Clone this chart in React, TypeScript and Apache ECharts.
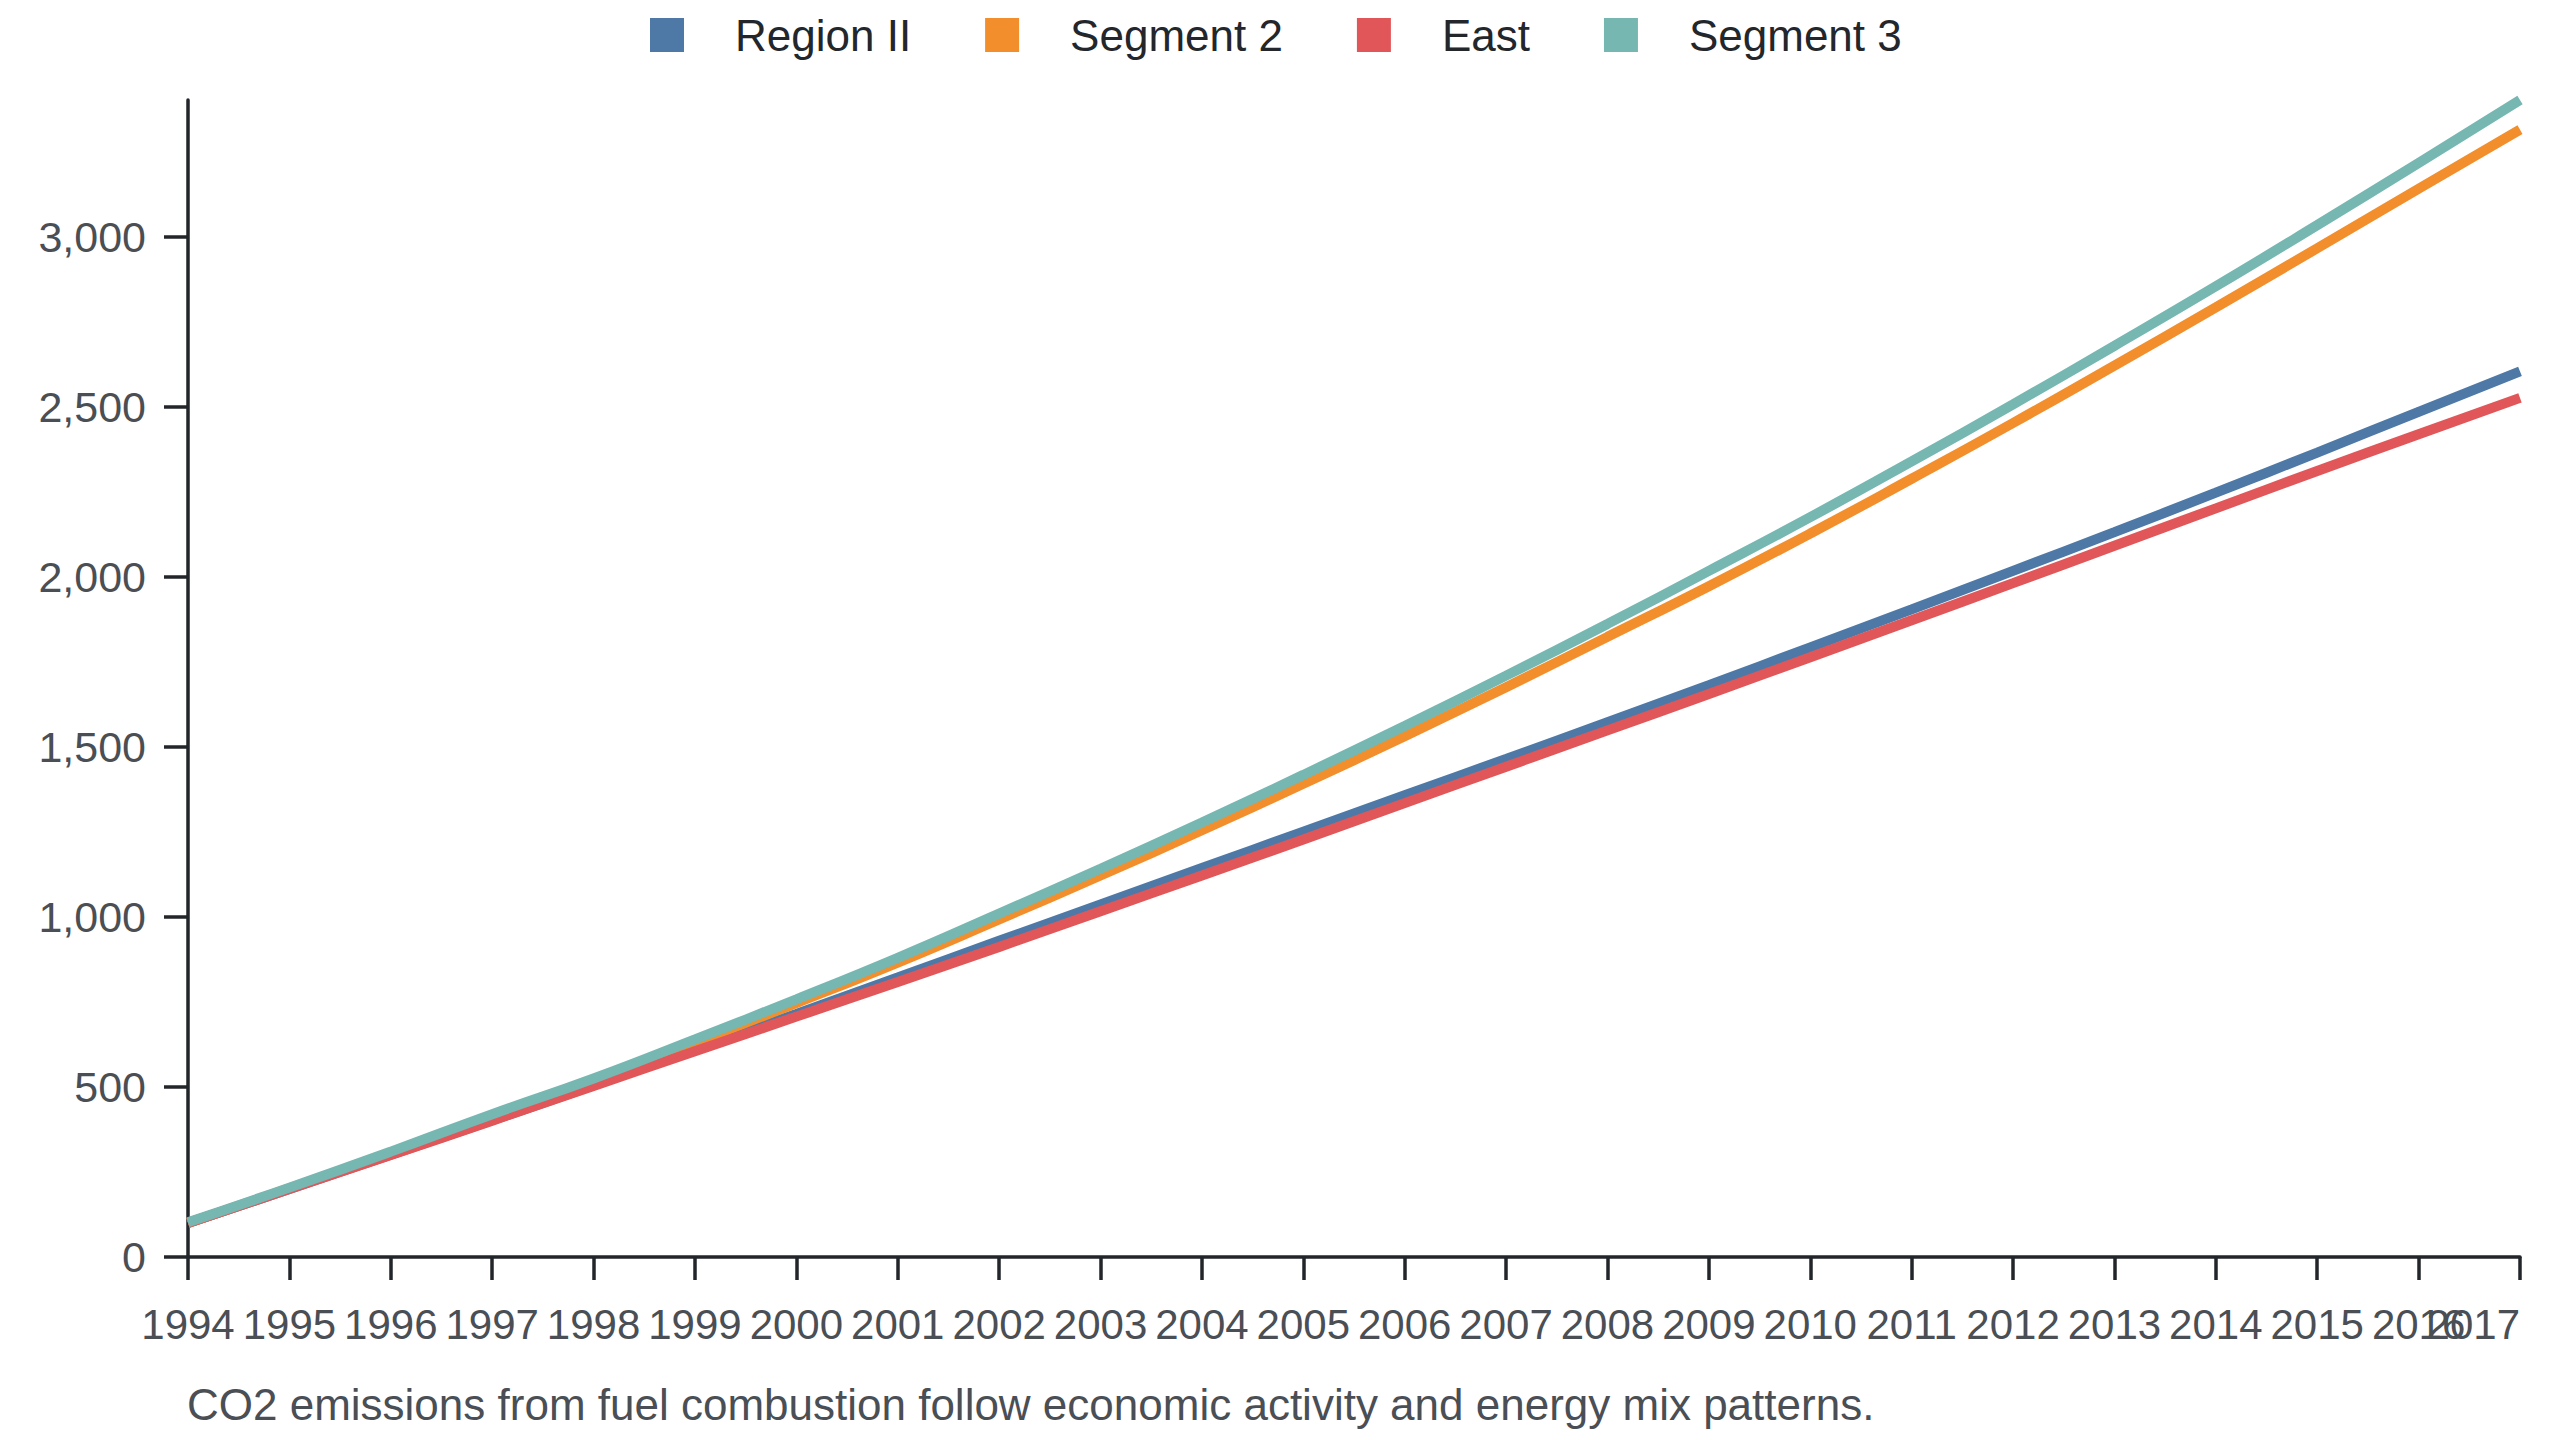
import React, { useEffect, useRef } from 'react';
import * as echarts from 'echarts';

const years = [
    '1994', '1995', '1996', '1997', '1998', '1999', '2000', '2001',
    '2002', '2003', '2004', '2005', '2006', '2007', '2008', '2009',
    '2010', '2011', '2012', '2013', '2014', '2015', '2016', '2017',
];

const regionII = [
    100, 200, 301, 402, 505, 610, 715, 822, 930, 1037, 1144, 1251,
    1358, 1465, 1573, 1682, 1793, 1905, 2018, 2132, 2248, 2366, 2486, 2605,
];
const segment2 = [
    100, 202, 307, 415, 518, 631, 747, 866, 993, 1122, 1255, 1392,
    1532, 1676, 1824, 1973, 2128, 2289, 2453, 2622, 2793, 2967, 3142, 3316,
];
const east = [
    100, 200, 300, 401, 503, 605, 707, 809, 912, 1017, 1122, 1228,
    1335, 1442, 1549, 1656, 1764, 1873, 1982, 2092, 2202, 2312, 2420, 2527,
];
const segment3 = [
    102, 204, 310, 420, 525, 640, 758, 880, 1010, 1142, 1278, 1418,
    1562, 1710, 1862, 2018, 2176, 2340, 2508, 2680, 2855, 3035, 3218, 3403,
];

const yTicks = [0, 500, 1000, 1500, 2000, 2500, 3000];

const caption = 'CO2 emissions from fuel combustion follow economic activity and energy mix patterns.';

const AXIS = '#222529';
const LABEL = '#4a4e55';

const EmissionsChart: React.FC = () => {
    const chartRef = useRef<HTMLDivElement>(null);

    useEffect(() => {
        if (!chartRef.current) return;
        const chart = echarts.init(chartRef.current, undefined, { renderer: 'svg' });

        const line = (name: string, data: number[], color: string) => ({
            name,
            type: 'line',
            data,
            smooth: true,
            symbol: 'none',
            color,
            lineStyle: { width: 10, color, cap: 'butt' },
        });

        chart.setOption({
            animation: false,
            backgroundColor: '#ffffff',
            textStyle: { fontFamily: '"Liberation Sans", Arial, sans-serif' },
            title: {
                text: caption,
                left: 174,
                top: 1369,
                textStyle: { fontSize: 44, fontWeight: 'normal', color: LABEL },
            },
            legend: {
                top: 0,
                left: 637,
                icon: 'rect',
                itemWidth: 34,
                itemHeight: 34,
                itemGap: 74,
                itemStyle: { borderRadius: 4 },
                textStyle: { fontSize: 44, color: '#23262b', padding: [0, 0, 0, 46] },
            },
            grid: { left: 180, right: 32, top: 92, bottom: 175 },
            xAxis: {
                type: 'category',
                data: years,
                boundaryGap: false,
                axisLine: { lineStyle: { color: AXIS, width: 3.5 } },
                axisTick: { show: true, length: 23, lineStyle: { color: AXIS, width: 3.5 } },
                axisLabel: {
                    interval: 0,
                    fontSize: 42,
                    color: LABEL,
                    margin: 46,
                    alignMaxLabel: 'right',
                },
                splitLine: { show: false },
            },
            yAxis: {
                type: 'value',
                min: 0,
                max: 'dataMax',
                interval: 500,
                axisLine: { show: true, lineStyle: { color: AXIS, width: 3.5 } },
                axisTick: { show: true, length: 24, lineStyle: { color: AXIS, width: 3.5 }, customValues: yTicks },
                axisLabel: {
                    fontSize: 43,
                    color: LABEL,
                    margin: 42,
                    customValues: yTicks,
                    formatter: (v: number) => v.toLocaleString('en-US'),
                },
                splitLine: { show: false },
            },
            series: [
                line('Region II', regionII, '#4e79a7'),
                line('Segment 2', segment2, '#f28e2b'),
                line('East', east, '#e15759'),
                line('Segment 3', segment3, '#76b7b2'),
            ],
        });

        return () => {
            chart.dispose();
        };
    }, []);

    return <div ref={chartRef} style={{ width: '100%', height: '1424px' }} />;
};

export default function App() {
    return <EmissionsChart />;
}
